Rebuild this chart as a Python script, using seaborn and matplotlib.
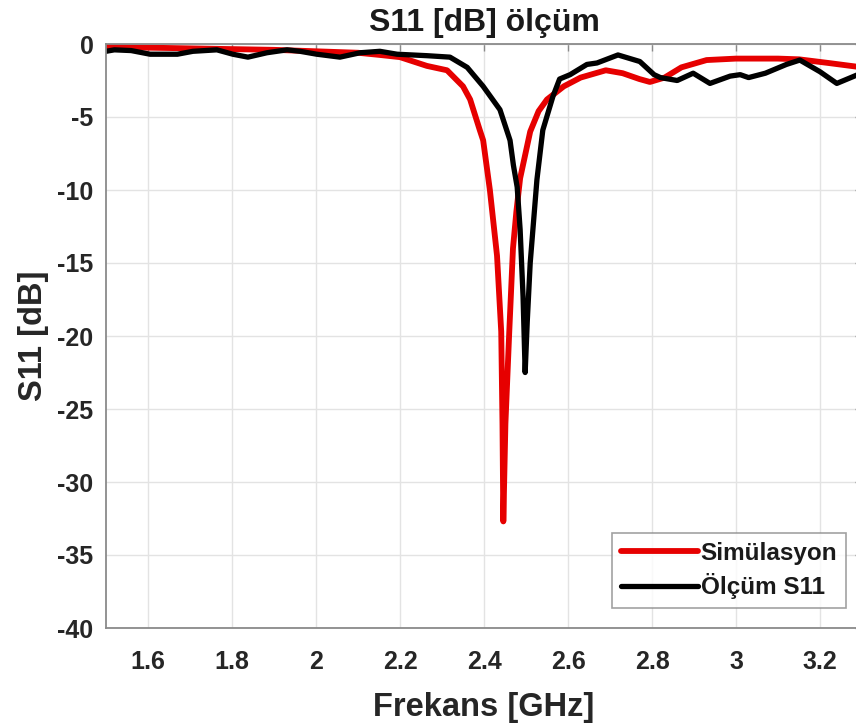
import numpy as np
import pandas as pd
import matplotlib
matplotlib.use("Agg")
import matplotlib.pyplot as plt
import seaborn as sns

# Simulation (red)
sim_f = [1.50, 1.60, 1.70, 1.80, 1.90, 2.00, 2.10, 2.152, 2.20, 2.264, 2.312, 2.35,
         2.367, 2.39, 2.398, 2.414, 2.431, 2.441, 2.444, 2.446, 2.451, 2.460, 2.469,
         2.477, 2.486, 2.51, 2.53, 2.55, 2.59, 2.63, 2.69, 2.73, 2.77, 2.795, 2.83,
         2.87, 2.93, 3.00, 3.10, 3.15, 3.22, 3.30]
sim_db = [-0.2, -0.25, -0.3, -0.35, -0.4, -0.5, -0.6, -0.75, -0.9, -1.5, -1.8, -2.9,
          -3.8, -5.9, -6.6, -10.0, -14.5, -19.7, -26.0, -32.7, -26.0, -19.8, -14.0,
          -11.5, -9.2, -6.0, -4.6, -3.8, -2.9, -2.3, -1.8, -2.0, -2.4, -2.6, -2.3,
          -1.6, -1.1, -1.0, -1.0, -1.05, -1.3, -1.6]

# Measurement (black)
meas_f = [1.50, 1.52, 1.56, 1.605, 1.67, 1.707, 1.764, 1.802, 1.838, 1.883, 1.931,
          1.962, 2.002, 2.057, 2.105, 2.152, 2.193, 2.264, 2.319, 2.36, 2.398, 2.438,
          2.462, 2.470, 2.479, 2.486, 2.493, 2.498, 2.503, 2.51, 2.526, 2.54, 2.564,
          2.58, 2.605, 2.645, 2.669, 2.719, 2.771, 2.805, 2.82, 2.86, 2.898, 2.938,
          2.986, 3.01, 3.03, 3.07, 3.12, 3.152, 3.20, 3.24, 3.29]
meas_db = [-0.5, -0.4, -0.45, -0.7, -0.7, -0.5, -0.4, -0.7, -0.9, -0.6, -0.4,
           -0.5, -0.7, -0.9, -0.6, -0.5, -0.7, -0.8, -0.9, -1.6, -2.9, -4.5,
           -6.6, -8.3, -9.8, -12.7, -17.3, -22.5, -19.0, -15.0, -9.3, -5.9, -3.6,
           -2.4, -2.1, -1.4, -1.3, -0.75, -1.2, -2.1, -2.3, -2.5, -2.0, -2.7,
           -2.2, -2.1, -2.3, -2.0, -1.4, -1.1, -1.9, -2.7, -2.1]

labels = ["Simülasyon", "Ölçüm S11"]
x_ticks = [1.6, 1.8, 2.0, 2.2, 2.4, 2.6, 2.8, 3.0, 3.2]
x_ticklabels = ["1.6", "1.8", "2", "2.2", "2.4", "2.6", "2.8", "3", "3.2"]
y_ticks = [0, -5, -10, -15, -20, -25, -30, -35, -40]

sns.set_style("white")
plt.rcParams['font.family'] = ['Liberation Sans', 'DejaVu Sans']
plt.rcParams['font.weight'] = 'bold'

W, H = 856, 726
fig = plt.figure(figsize=(W / 100, H / 100), dpi=100)
left, right, top, bottom = 106, 862, 44, 628
ax = fig.add_axes([left / W, (H - bottom) / H, (right - left) / W, (bottom - top) / H])

df_sim = pd.DataFrame({"f": sim_f, "db": sim_db})
df_meas = pd.DataFrame({"f": meas_f, "db": meas_db})
sns.lineplot(data=df_sim, x="f", y="db", ax=ax, color="#e60000", linewidth=4.2,
             label=labels[0], sort=False)
sns.lineplot(data=df_meas, x="f", y="db", ax=ax, color="#000000", linewidth=3.8,
             label=labels[1], sort=False)

ax.set_xlim(1.5, 3.3)
ax.set_ylim(-40, 0)
ax.set_xticks(x_ticks)
ax.set_xticklabels(x_ticklabels)
ax.set_yticks(y_ticks)
ax.set_yticklabels([str(v) for v in y_ticks])

ax.grid(True, color="#e3e3e3", linewidth=1.0)
ax.set_axisbelow(True)
for s in ax.spines.values():
    s.set_color("#8a8a8a")
    s.set_linewidth(1.3)

ax.tick_params(axis='both', direction='in', length=5, width=1, color="#8a8a8a",
               labelsize=18, labelcolor="#262626", top=True, right=True)
ax.tick_params(axis='x', pad=16)
ax.tick_params(axis='y', pad=9)
for lab in ax.get_xticklabels() + ax.get_yticklabels():
    lab.set_fontweight('bold')

ax.set_title("S11 [dB] ölçüm", fontsize=23, fontweight='bold', color="#1a1a1a", pad=9)
ax.set_xlabel("Frekans [GHz]", fontsize=23.5, fontweight='bold', color="#262626", labelpad=13)
ax.set_ylabel("S11 [dB]", fontsize=23.5, fontweight='bold', color="#262626", labelpad=6)

leg = ax.legend(loc='lower left', bbox_to_anchor=((612 - left) / (right - left),
                                                  (bottom - 608) / (bottom - top)),
                prop={'size': 17.5, 'weight': 'bold'}, frameon=True, fancybox=False,
                handlelength=3.2, handletextpad=0.1, borderpad=0.35, labelspacing=0.35,
                borderaxespad=0)
leg.get_frame().set_edgecolor("#8a8a8a")
leg.get_frame().set_linewidth(1.2)
for t in leg.get_texts():
    t.set_color("#1a1a1a")

fig.savefig("out.png", dpi=100)
